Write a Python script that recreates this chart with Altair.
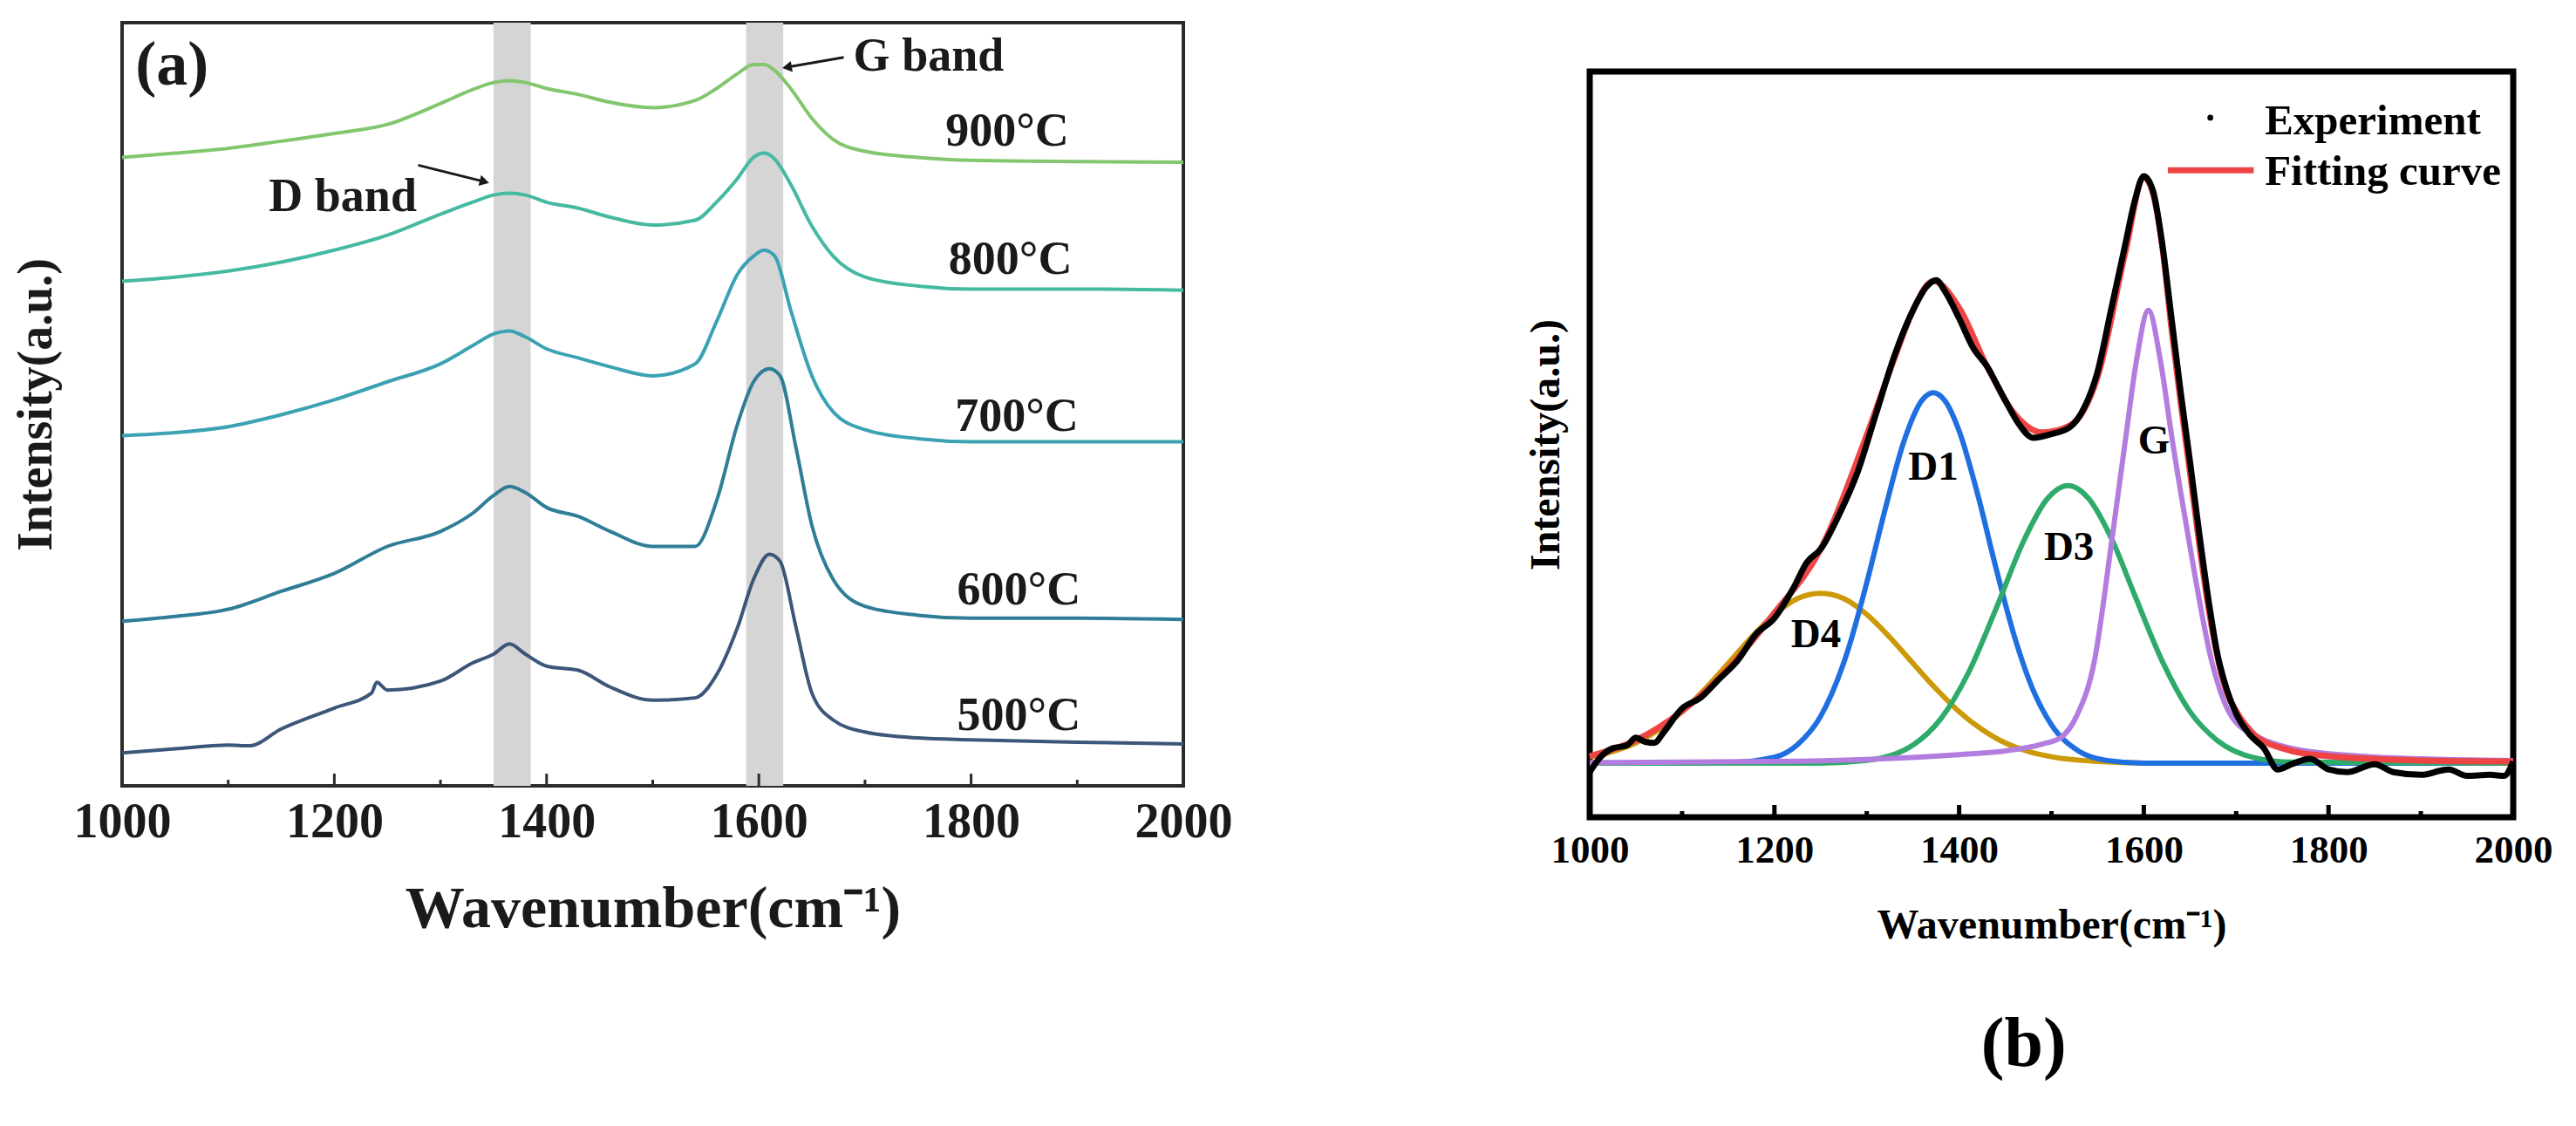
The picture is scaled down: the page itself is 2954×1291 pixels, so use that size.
import altair as alt
import pandas as pd

FONT = "Liberation Serif"

# ---------------- Panel (a): Raman spectra at five temperatures ----------------
A_TEMPS = ["900°C", "800°C", "700°C", "600°C", "500°C"]
A_COLORS = ["#82c66e", "#45b9a2", "#3aa2b2", "#2f7d96", "#3c5679"]

A_WN_HI = [1000, 1050, 1100, 1150, 1200, 1250, 1300, 1330, 1350, 1365,
           1380, 1400, 1430, 1460, 1500, 1540, 1560, 1580, 1595, 1605,
           1615, 1630, 1650, 1670, 1700, 1750, 1800, 1900, 2000]
A_I_900 = [1050, 1057, 1065, 1077, 1090, 1105, 1140, 1163, 1175, 1178,
           1175, 1165, 1155, 1142, 1133, 1145, 1165, 1190, 1205, 1205,
           1195, 1165, 1115, 1080, 1060, 1050, 1045, 1043, 1042]
A_I_800 = [843, 850, 860, 875, 895, 920, 955, 975, 987, 990,
           987, 975, 965, 950, 937, 945, 975, 1015, 1050, 1057,
           1047, 1005, 935, 885, 850, 835, 830, 830, 828]
A_I_700 = [585, 590, 600, 620, 645, 675, 705, 735, 755, 760,
           750, 730, 715, 700, 685, 705, 775, 855, 885, 895,
           885, 795, 685, 625, 595, 580, 575, 575, 575]
A_WN_600 = [1000, 1050, 1100, 1150, 1200, 1250, 1300, 1330, 1350, 1365,
            1380, 1400, 1430, 1460, 1500, 1540, 1560, 1580, 1595, 1610,
            1620, 1635, 1650, 1670, 1700, 1750, 1800, 1900, 2000]
A_I_600 = [275, 283, 295, 325, 355, 400, 425, 455, 485, 500,
           490, 465, 450, 425, 400, 400, 475, 605, 675, 697,
           685, 565, 435, 345, 300, 285, 280, 280, 278]
A_WN_500 = [1000, 1050, 1100, 1120, 1150, 1200, 1235, 1240, 1250, 1300,
            1330, 1350, 1365, 1380, 1400, 1430, 1460, 1500, 1540, 1560,
            1580, 1595, 1610, 1620, 1635, 1650, 1670, 1700, 1750, 1800,
            1900, 2000]
A_I_500 = [55, 62, 68, 67, 95, 130, 155, 173, 160, 175,
           205, 220, 237, 220, 200, 193, 165, 143, 147, 185,
           265, 345, 387, 375, 265, 155, 110, 90, 80, 77,
           73, 70]

A_BAND_LO = [1350, 1588]
A_BAND_HI = [1385, 1623]
A_LABEL_WN = [1834, 1837, 1843, 1845, 1845]
A_LABEL_I = [1070, 855, 593, 303, 93]
A_TICK_LABELS = [1000, 1200, 1400, 1600, 1800, 2000]
A_MAJOR = [1200, 1400, 1600, 1800]
A_MINOR = [1100, 1300, 1500, 1700, 1900]
A_ANN_TEXT = ["(a)", "G band", "D band"]
A_ANN_WN = [1047, 1760, 1208]
A_ANN_I = [1171, 1195, 960]
A_ANN_SIZE = [72, 54, 54]
A_ARROW_WN = [1680, 1279]
A_ARROW_I = [1217, 1037]
A_ARROW_WN2 = [1628, 1340]
A_ARROW_I2 = [1201, 1010]
A_ARROW_ANGLE = [260, 104]

# ---------------- Panel (b): peak fitting ----------------
B_EXP_WN = [1000, 1010, 1025, 1040, 1050, 1060, 1070, 1080, 1100, 1120,
            1140, 1160, 1180, 1200, 1220, 1235, 1250, 1270, 1290, 1310,
            1330, 1350, 1365, 1375, 1385, 1400, 1415, 1430, 1450, 1465,
            1480, 1500, 1520, 1535, 1550, 1565, 1580, 1590, 1600, 1610,
            1620, 1630, 1640, 1650, 1660, 1670, 1680, 1690, 1700, 1715,
            1730, 1745, 1760, 1780, 1800, 1820, 1850, 1870, 1900, 1930,
            1950, 1975, 1990, 2000]
B_EXP_I = [85, 110, 130, 135, 150, 142, 140, 160, 205, 225,
           260, 295, 345, 375, 430, 480, 505, 570, 650, 760,
           870, 955, 1000, 1012, 990, 940, 885, 850, 785, 740,
           715, 722, 735, 770, 840, 960, 1080, 1160, 1208, 1180,
           1080, 940, 800, 670, 535, 410, 305, 240, 195, 155,
           130, 90, 100, 110, 90, 85, 100, 85, 80, 90,
           78, 80, 78, 105]

B_FIT_WN = [1000, 1050, 1100, 1150, 1200, 1250, 1300, 1330, 1350, 1372,
            1400, 1430, 1460, 1490, 1520, 1550, 1580, 1600, 1610, 1620,
            1630, 1640, 1650, 1660, 1670, 1680, 1690, 1700, 1720, 1750,
            1800, 1900, 2000]
B_FIT_I = [115, 145, 200, 280, 385, 505, 720, 865, 955, 1010,
           960, 850, 760, 725, 738, 830, 1065, 1205, 1175, 1075,
           920, 780, 650, 515, 395, 300, 235, 200, 155, 130,
           115, 107, 105]

B_D1_WN = [1000, 1150, 1200, 1225, 1250, 1280, 1300, 1320, 1340, 1360, 1372,
           1385, 1400, 1420, 1440, 1460, 1480, 1500, 1530, 1560, 1600, 2000]
B_D1_I = [102, 103, 113, 137, 190, 317, 442, 581, 707, 786, 800,
          784, 728, 609, 469, 340, 240, 174, 124, 107, 102, 102]

B_D3_WN = [1000, 1250, 1300, 1350, 1380, 1410, 1440, 1470, 1495, 1518,
           1540, 1565, 1590, 1620, 1650, 1680, 1720, 1760, 2000]
B_D3_I = [102, 102, 107, 136, 185, 272, 393, 521, 599, 625,
          601, 525, 419, 294, 199, 144, 112, 104, 102]

B_G_WN = [1000, 1100, 1200, 1300, 1400, 1450, 1490, 1510, 1527, 1546, 1566, 1580,
          1592, 1605, 1618, 1630, 1648, 1674, 1695, 1725, 1760, 1835, 1900, 2000]
B_G_I = [103, 104, 105, 109, 118, 125, 138, 150, 190, 290, 530, 710,
         860, 955, 860, 720, 530, 290, 190, 150, 130, 115, 110, 107]

B_D4_WN = [1000, 1025, 1050, 1075, 1100, 1125, 1150, 1175, 1200, 1225, 1250, 1275,
           1300, 1325, 1350, 1375, 1400, 1425, 1450, 1475, 1500, 1550, 1600, 2000]
B_D4_I = [114, 124, 140, 165, 199, 242, 290, 339, 382, 412, 422, 412,
          382, 339, 290, 242, 199, 165, 140, 124, 114, 105, 102, 102]

B_COMP_NAMES = ["D4", "D1", "D3", "G"]
B_COMP_COLORS = ["#cc9a06", "#1f6fe0", "#2eaa6a", "#b27ddf"]
B_LABEL_TEXT = ["D1", "D3", "G", "D4"]
B_LABEL_WN = [1372, 1519, 1611, 1245]
B_LABEL_I = [636, 485, 685, 321]
B_TICK_LABELS = [1000, 1200, 1400, 1600, 1800, 2000]
B_MAJOR = [1200, 1400, 1600, 1800]
B_MINOR = [1100, 1300, 1500, 1700, 1900]
B_LEG_TEXT = ["Experiment", "Fitting curve"]
B_LEG_WN = [1731, 1731]
B_LEG_I = [1287, 1192]
B_LEG_DOT = (1672, 1318)
B_LEG_LINE = (1626, 1719, 1219)
B_PANEL_TAG = ("(b)", 1470, -468)

# sizes of the two plot areas
A_W, A_H = 1217, 875
B_W, B_H = 1059, 855


def long_df(pairs):
    rows = []
    for name, wn, vals in pairs:
        for w, v in zip(wn, vals):
            rows.append({"series": name, "wn": w, "I": v})
    return pd.DataFrame(rows)


# ---------- Panel (a) ----------
a_x_axis = alt.Axis(values=A_TICK_LABELS, format="d", ticks=False, domain=False, grid=False,
                    labelFont=FONT, labelFontSize=56, labelFontWeight="bold", labelColor="#1a1a1a",
                    labelPadding=14, labelFlush=False, labelOverlap=False, labelBound=False,
                    title="Wavenumber(cm⁻¹)", titleFont=FONT, titleFontSize=68,
                    titleFontWeight="bold", titleColor="#1a1a1a", titlePadding=38)
a_y_axis = alt.Axis(ticks=False, labels=False, domain=False, grid=False,
                    title="Intensity(a.u.)", titleFont=FONT, titleFontSize=56,
                    titleFontWeight="bold", titleColor="#1a1a1a", titlePadding=70)
a_xs = alt.Scale(domain=[1000, 2000], nice=False, zero=False)
a_ys = alt.Scale(domain=[0, 1275], nice=False, zero=False)


def ax(field):
    return alt.X(field, type="quantitative", scale=a_xs, axis=a_x_axis)


def ay(field):
    return alt.Y(field, type="quantitative", scale=a_ys, axis=a_y_axis)


a_lines_df = long_df([
    ("900°C", A_WN_HI, A_I_900),
    ("800°C", A_WN_HI, A_I_800),
    ("700°C", A_WN_HI, A_I_700),
    ("600°C", A_WN_600, A_I_600),
    ("500°C", A_WN_500, A_I_500),
])
a_bands = alt.Chart(pd.DataFrame({"lo": A_BAND_LO, "hi": A_BAND_HI})).mark_rect(
    color="#d5d5d5").encode(x=ax("lo"), x2="hi")
a_lines = alt.Chart(a_lines_df).mark_line(strokeWidth=4, interpolate="monotone").encode(
    x=ax("wn"), y=ay("I"),
    color=alt.Color("series:N", scale=alt.Scale(domain=A_TEMPS, range=A_COLORS), legend=None),
    detail="series:N")
a_labels = alt.Chart(pd.DataFrame({"t": A_TEMPS, "wn": A_LABEL_WN, "I": A_LABEL_I})).mark_text(
    font=FONT, fontSize=54, fontWeight="bold", color="#1a1a1a", align="center",
    baseline="alphabetic").encode(x=ax("wn"), y=ay("I"), text="t:N")
a_ann = alt.Chart(pd.DataFrame({"t": A_ANN_TEXT, "wn": A_ANN_WN, "I": A_ANN_I, "s": A_ANN_SIZE})).mark_text(
    font=FONT, fontWeight="bold", color="#1a1a1a", align="center", baseline="alphabetic").encode(
    x=ax("wn"), y=ay("I"), text="t:N", size=alt.Size("s:Q", scale=None, legend=None))
arrow_df = pd.DataFrame({"wn": A_ARROW_WN, "I": A_ARROW_I, "wn2": A_ARROW_WN2, "I2": A_ARROW_I2,
                         "ang": A_ARROW_ANGLE})
a_arrow_lines = alt.Chart(arrow_df).mark_rule(color="#1a1a1a", strokeWidth=3).encode(
    x=ax("wn"), y=ay("I"), x2="wn2", y2="I2")
a_arrow_heads = alt.Chart(arrow_df).mark_point(shape="triangle", filled=True, color="#1a1a1a",
                                               size=160, opacity=1).encode(
    x=ax("wn2"), y=ay("I2"), angle=alt.Angle("ang:Q", scale=None))
a_major = alt.Chart(pd.DataFrame({"wn": A_MAJOR})).mark_rule(color="#2b2b2b", strokeWidth=3).encode(
    x=ax("wn"), y=alt.value(A_H), y2=alt.value(A_H - 14))
a_minor = alt.Chart(pd.DataFrame({"wn": A_MINOR})).mark_rule(color="#2b2b2b", strokeWidth=3).encode(
    x=ax("wn"), y=alt.value(A_H), y2=alt.value(A_H - 7))

panel_a = alt.layer(a_bands, a_lines, a_labels, a_ann, a_arrow_lines, a_arrow_heads,
                    a_major, a_minor).properties(
    width=A_W, height=A_H, view=alt.ViewBackground(stroke="#2b2b2b", strokeWidth=4))

# ---------- Panel (b) ----------
b_x_axis = alt.Axis(values=B_TICK_LABELS, format="d", ticks=False, domain=False, grid=False,
                    labelFont=FONT, labelFontSize=45, labelFontWeight="bold", labelColor="black",
                    labelPadding=15, labelFlush=False, labelOverlap=False, labelBound=False,
                    title="Wavenumber(cm⁻¹)", titleFont=FONT, titleFontSize=48,
                    titleFontWeight="bold", titleColor="black", titlePadding=40)
b_y_axis = alt.Axis(ticks=False, labels=False, domain=False, grid=False,
                    title="Intensity(a.u.)", titleFont=FONT, titleFontSize=48,
                    titleFontWeight="bold", titleColor="black", titlePadding=26)
b_xs = alt.Scale(domain=[1000, 2000], nice=False, zero=False)
b_ys = alt.Scale(domain=[0, 1405], nice=False, zero=False)


def bx(field):
    return alt.X(field, type="quantitative", scale=b_xs, axis=b_x_axis)


def by(field):
    return alt.Y(field, type="quantitative", scale=b_ys, axis=b_y_axis)


def b_line(wn, vals, color, width):
    return alt.Chart(pd.DataFrame({"wn": wn, "I": vals})).mark_line(
        color=color, strokeWidth=width, interpolate="monotone").encode(x=bx("wn"), y=by("I"))


b_layers = [
    b_line(B_D4_WN, B_D4_I, B_COMP_COLORS[0], 6),
    b_line(B_D1_WN, B_D1_I, B_COMP_COLORS[1], 6),
    b_line(B_D3_WN, B_D3_I, B_COMP_COLORS[2], 6),
    b_line(B_G_WN, B_G_I, B_COMP_COLORS[3], 6),
    b_line(B_FIT_WN, B_FIT_I, "#ef4444", 7),
    b_line(B_EXP_WN, B_EXP_I, "black", 7),
]
b_labels = alt.Chart(pd.DataFrame({"t": B_LABEL_TEXT, "wn": B_LABEL_WN, "I": B_LABEL_I})).mark_text(
    font=FONT, fontSize=47, fontWeight="bold", color="black", align="center",
    baseline="alphabetic").encode(x=bx("wn"), y=by("I"), text="t:N")
b_leg_text = alt.Chart(pd.DataFrame({"t": B_LEG_TEXT, "wn": B_LEG_WN, "I": B_LEG_I})).mark_text(
    font=FONT, fontSize=49, fontWeight="bold", color="black", align="left",
    baseline="alphabetic").encode(x=bx("wn"), y=by("I"), text="t:N")
b_leg_dot = alt.Chart(pd.DataFrame({"wn": [B_LEG_DOT[0]], "I": [B_LEG_DOT[1]]})).mark_circle(
    color="black", size=45, opacity=1).encode(x=bx("wn"), y=by("I"))
b_leg_line = alt.Chart(pd.DataFrame({"wn": [B_LEG_LINE[0]], "wn2": [B_LEG_LINE[1]],
                                     "I": [B_LEG_LINE[2]]})).mark_rule(
    color="#ef4444", strokeWidth=7).encode(x=bx("wn"), x2="wn2", y=by("I"))
b_tag = alt.Chart(pd.DataFrame({"t": [B_PANEL_TAG[0]], "wn": [B_PANEL_TAG[1]],
                                "I": [B_PANEL_TAG[2]]})).mark_text(
    font=FONT, fontSize=80, fontWeight="bold", color="black", align="center",
    baseline="alphabetic").encode(x=bx("wn"), y=by("I"), text="t:N")
b_major = alt.Chart(pd.DataFrame({"wn": B_MAJOR})).mark_rule(color="black", strokeWidth=5).encode(
    x=bx("wn"), y=alt.value(B_H), y2=alt.value(B_H - 14))
b_minor = alt.Chart(pd.DataFrame({"wn": B_MINOR})).mark_rule(color="black", strokeWidth=5).encode(
    x=bx("wn"), y=alt.value(B_H), y2=alt.value(B_H - 7))

panel_b = alt.layer(*b_layers, b_labels, b_leg_dot, b_leg_line, b_leg_text, b_tag,
                    b_major, b_minor).properties(
    width=B_W, height=B_H, view=alt.ViewBackground(stroke="black", strokeWidth=7))

spacer = alt.Chart(pd.DataFrame({"v": [0]})).mark_point(opacity=0).encode(
    x=alt.value(0), y=alt.value(0)).properties(width=B_W, height=6)

right_col = alt.vconcat(spacer, panel_b, spacing=50, bounds="flush")

chart = alt.hconcat(panel_a, right_col, spacing=466, bounds="flush").properties(
    padding={"left": 3, "top": 14, "right": 5, "bottom": 5}
).configure_view(stroke="transparent").configure_axis(grid=False)

chart.save("out.html", embed_options={"renderer": "svg", "actions": False})
